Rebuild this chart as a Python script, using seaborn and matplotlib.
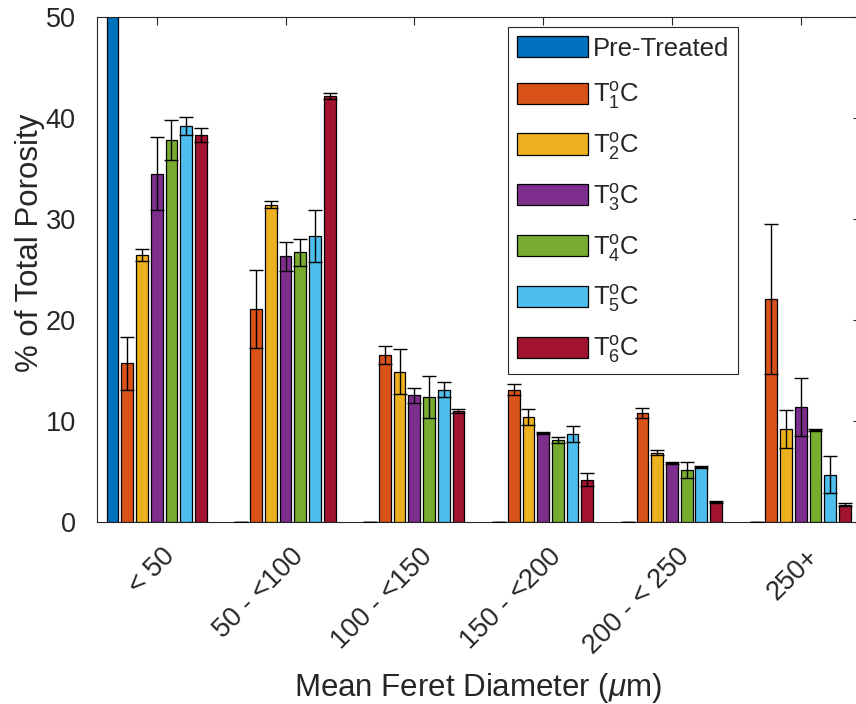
import numpy as np
import pandas as pd
import matplotlib
matplotlib.use("Agg")
import matplotlib.pyplot as plt
import matplotlib.transforms as mtransforms
import seaborn as sns

# ---------------- data ----------------
categories = ['< 50', '50 - <100', '100 - <150', '150 - <200', '200 - < 250', '250+']
series = ['Pre-Treated', 'T1', 'T2', 'T3', 'T4', 'T5', 'T6']
legend_labels = ['Pre-Treated',
                 r'T$_{1}^{\mathrm{o}}$C', r'T$_{2}^{\mathrm{o}}$C', r'T$_{3}^{\mathrm{o}}$C',
                 r'T$_{4}^{\mathrm{o}}$C', r'T$_{5}^{\mathrm{o}}$C', r'T$_{6}^{\mathrm{o}}$C']

pre_treated = [60.0, 0.0, 0.0, 0.0, 0.0, 0.0]
pre_treated_err = [0.0, 0.0, 0.0, 0.0, 0.0, 0.0]
t1 = [15.7, 21.1, 16.5, 13.1, 10.8, 22.1]
t1_err = [2.6, 3.9, 0.9, 0.55, 0.5, 7.4]
t2 = [26.4, 31.4, 14.9, 10.4, 6.85, 9.2]
t2_err = [0.6, 0.35, 2.2, 0.75, 0.25, 1.9]
t3 = [34.5, 26.3, 12.55, 8.8, 5.8, 11.4]
t3_err = [3.6, 1.4, 0.75, 0.1, 0.1, 2.9]
t4 = [37.8, 26.7, 12.4, 8.15, 5.15, 9.1]
t4_err = [2.0, 1.35, 2.1, 0.3, 0.75, 0.1]
t5 = [39.2, 28.3, 13.1, 8.7, 5.4, 4.7]
t5_err = [0.9, 2.6, 0.75, 0.8, 0.1, 1.8]
t6 = [38.3, 42.2, 11.0, 4.2, 1.95, 1.7]
t6_err = [0.7, 0.3, 0.2, 0.65, 0.1, 0.15]

values = [pre_treated, t1, t2, t3, t4, t5, t6]
errors = [pre_treated_err, t1_err, t2_err, t3_err, t4_err, t5_err, t6_err]
colors = ['#0072BD', '#D95319', '#EDB120', '#7E2F8E', '#77AC30', '#4DBEEE', '#A2142F']

rows = []
for s, vals in zip(series, values):
    for c, v in zip(categories, vals):
        rows.append({'Category': c, 'Series': s, 'Value': v})
df = pd.DataFrame(rows)

# ---------------- style ----------------
sns.set_style("white")
plt.rcParams['font.family'] = ['Liberation Sans', 'DejaVu Sans']
plt.rcParams['mathtext.fontset'] = 'custom'
plt.rcParams['mathtext.rm'] = 'Liberation Sans'
plt.rcParams['mathtext.it'] = 'Liberation Sans:italic'
plt.rcParams['mathtext.bf'] = 'Liberation Sans:bold'
plt.rcParams['text.color'] = '#262626'

W, H = 856, 704
fig = plt.figure(figsize=(W / 100, H / 100), dpi=100)
left_px, right_px, top_px, bot_px = 96.7, 861.0, 17.0, 522.0
ax = fig.add_axes([left_px / W, 1 - bot_px / H, (right_px - left_px) / W, (bot_px - top_px) / H])

sns.barplot(data=df, x='Category', y='Value', hue='Series', order=categories,
            hue_order=series, palette=colors, gap=0.2, edgecolor='black',
            linewidth=0.9, errorbar=None, legend=False, saturation=1, ax=ax)

for cont, err in zip(ax.containers, errors):
    xs = [p.get_x() + p.get_width() / 2 for p in cont.patches]
    ys = [p.get_height() for p in cont.patches]
    ax.errorbar(xs, ys, yerr=err, fmt='none', ecolor='black', elinewidth=1.0,
                capsize=4.8, capthick=1.0, zorder=5, clip_on=True)

ax.set_ylim(0, 50)
ax.set_xlim(-0.466, 5.468)
ax.set_yticks([0, 10, 20, 30, 40, 50])
ax.set_xticks(range(len(categories)))
ax.set_xticklabels(categories, rotation=45, ha='right', va='center', rotation_mode='anchor')

ax.tick_params(axis='both', direction='in', length=5.5, width=0.8, color='#262626',
               labelsize=19.5, labelcolor='#262626', top=True, right=True)
ax.tick_params(axis='x', pad=22)
ax.tick_params(axis='y', pad=15)

offset = mtransforms.ScaledTranslation(14 / 100, 0, fig.dpi_scale_trans)
for lab in ax.get_xticklabels():
    lab.set_transform(lab.get_transform() + offset)

for sp in ax.spines.values():
    sp.set_visible(True)
    sp.set_color('#262626')
    sp.set_linewidth(0.8)

ax.set_xlabel(r'Mean Feret Diameter ($\mu$m)', fontsize=22.5, color='#262626')
ax.set_ylabel('% of Total Porosity', fontsize=22.5, color='#262626')
ax.xaxis.label.set_va('center')
ax.yaxis.label.set_va('center')
ax.xaxis.set_label_coords((478 - left_px) / (right_px - left_px), -(688 - bot_px) / (bot_px - top_px))
ax.yaxis.set_label_coords(-(left_px - 30) / (right_px - left_px), (bot_px - 243) / (bot_px - top_px))

handles = list(ax.containers)
leg = ax.legend(handles, legend_labels, loc='upper left',
                bbox_to_anchor=(508 / W, 1 - 27 / H), bbox_transform=fig.transFigure,
                borderaxespad=0, fontsize=18.5, handlelength=2.75, handleheight=0.9,
                labelspacing=0.77, handletextpad=0.2, borderpad=0.35,
                frameon=True, fancybox=False, edgecolor='#262626')
leg.get_frame().set_linewidth(0.8)
leg.get_frame().set_alpha(1)

fig.savefig('out.png', dpi=100)
